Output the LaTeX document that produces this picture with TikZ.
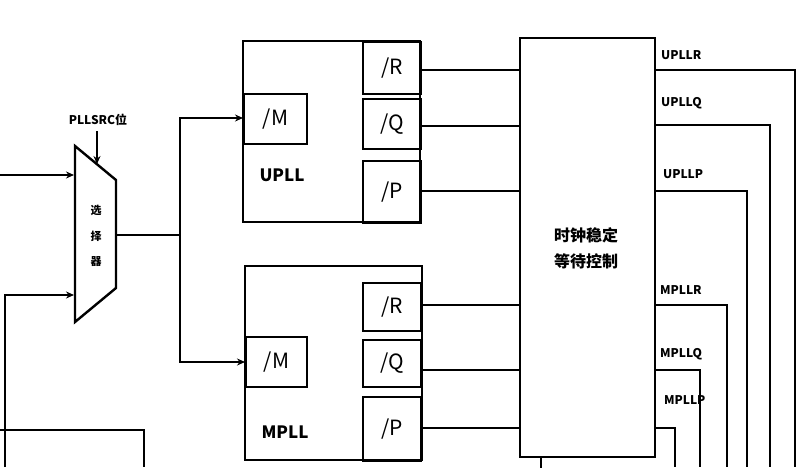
\documentclass[tikz,border=0pt]{standalone}
\usepackage{fontspec}
\setmainfont{Noto Sans CJK SC}
\usetikzlibrary{arrows.meta}
\begin{document}
\begin{tikzpicture}[x=1pt,y=-1pt,line width=2.2pt,
  bx/.style={draw,line width=2pt},
  lbl/.style={font=\bfseries\fontsize{12}{12}\selectfont,anchor=west,inner sep=0},
  dv/.style={font=\fontsize{21}{21}\selectfont,inner sep=0},
  arr/.style={-{Stealth[length=8pt,width=7pt]}}]
\useasboundingbox (0,0) rectangle (806,467);
% mux
\draw[bx,line width=2.4pt] (75,146) coordinate (m1) -- (116,180) -- (116,288) -- (75,322) -- cycle;
\coordinate (mo) at (116,235);
\node[font=\bfseries\fontsize{11}{11}\selectfont] at (96,210) {选};
\node[font=\bfseries\fontsize{11}{11}\selectfont] at (96,236) {择};
\node[font=\bfseries\fontsize{11}{11}\selectfont] at (96,262) {器};
\node[lbl,anchor=center] (src) at (98,120) {PLLSRC位};
\draw[arr] (97,131) -- (97,164);
\coordinate (in1) at (0,175);
\draw[arr] (in1) -- (74,175);
\draw[arr] (5,467) -- (5,295) -- (74,295);
\draw (0,430) -- (144,430) -- (144,467);
% split
\coordinate (sp) at (180,235);
\draw (mo) -- (sp);
\draw[arr] (180,235) |- (243,118);
\draw[arr] (180,235) |- (245,362);
% UPLL
\draw[bx] (243,41) rectangle (420,222);
\node[bx,minimum width=63pt,minimum height=50pt,anchor=north west] (um) at (243,93) {};
\node[dv] at (um) {/M};
\node[font=\bfseries\fontsize{17}{17}\selectfont] at (282,175) {UPLL};
\node[bx,minimum width=58pt,minimum height=52pt,anchor=north west] (ur) at (362,41) {};
\node[dv] at (ur) {/R};
\node[bx,minimum width=58pt,minimum height=50pt,anchor=north west] (uq) at (362,98) {};
\node[dv] at (uq) {/Q};
\node[bx,minimum width=58pt,minimum height=62pt,anchor=north west] (up) at (362,160) {};
\node[dv] at (up) {/P};
% MPLL
\draw[bx] (245,266) rectangle (422,460);
\node[bx,minimum width=61pt,minimum height=50pt,anchor=north west] (mm) at (245,336) {};
\node[dv] at (mm) {/M};
\node[font=\bfseries\fontsize{17}{17}\selectfont] at (285,432) {MPLL};
\node[bx,minimum width=58pt,minimum height=48pt,anchor=north west] (mr) at (362,282) {};
\node[dv] at (mr) {/R};
\node[bx,minimum width=58pt,minimum height=47pt,anchor=north west] (mq) at (362,339) {};
\node[dv] at (mq) {/Q};
\node[bx,minimum width=58pt,minimum height=64pt,anchor=north west] (mp) at (362,396) {};
\node[dv] at (mp) {/P};
% control
\node[bx,minimum width=135pt,minimum height=419pt,anchor=north west] (c) at (519,37) {};
\node[font=\bfseries\fontsize{16}{16}\selectfont,align=center] at (586,248) {时钟稳定\\[10pt]等待控制};
\foreach \y in {70,126,191,305,370,428} \draw (420,\y) -- (519,\y);
\draw (c.south west) ++(22,0) -- ++(0,11);
\draw (654,70) -- (795,70) -- (795,467);
\draw (654,125) -- (770,125) -- (770,467);
\draw (654,191) -- (747,191) -- (747,467);
\draw (654,305) -- (727,305) -- (727,467);
\draw (654,370) -- (700,370) -- (700,467);
\draw (654,428) -- (675,428) -- (675,467);
\node[lbl] at (660,55) {UPLLR};
\node[lbl] at (660,103) {UPLLQ};
\node[lbl] at (662,174) {UPLLP};
\node[lbl] at (659,290) {MPLLR};
\node[lbl] at (659,354) {MPLLQ};
\node[lbl] at (663,400) {MPLLP};
\end{tikzpicture}
\end{document}
